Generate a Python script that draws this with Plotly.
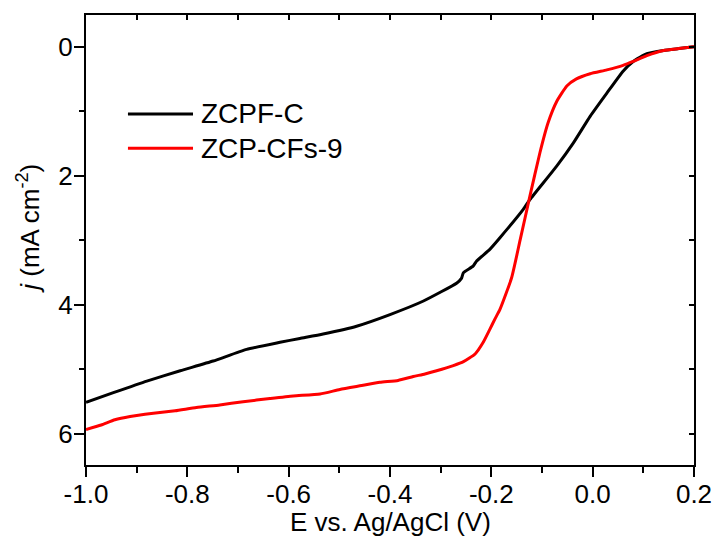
import plotly.graph_objects as go

# ZCPF-C (black)
x_zcpf = [-1.000, -0.946, -0.880, -0.814, -0.749, -0.683, -0.617, -0.578, -0.532, -0.466,
          -0.400, -0.334, -0.268, -0.259, -0.255, -0.236, -0.229, -0.203, -0.183, -0.137,
          -0.124, -0.071, -0.038, -0.005, 0.028, 0.060, 0.080, 0.107, 0.140, 0.170, 0.200]
y_zcpf = [5.51, 5.36, 5.18, 5.02, 4.87, 4.69, 4.58, 4.52, 4.45, 4.33,
          4.15, 3.94, 3.66, 3.59, 3.50, 3.40, 3.32, 3.14, 2.96, 2.52,
          2.37, 1.85, 1.49, 1.08, 0.72, 0.38, 0.23, 0.11, 0.06, 0.03, 0.00]

# ZCP-CFs-9 (red)
x_zcp = [-1.000, -0.970, -0.943, -0.913, -0.867, -0.824, -0.782, -0.736, -0.690, -0.637,
         -0.591, -0.538, -0.499, -0.456, -0.420, -0.384, -0.354, -0.331, -0.308, -0.275,
         -0.255, -0.232, -0.216, -0.203, -0.193, -0.183, -0.160, -0.143, -0.124, -0.104,
         -0.088, -0.071, -0.051, -0.032, -0.005, 0.028, 0.060, 0.080, 0.107, 0.140,
         0.170, 0.200]
y_zcp = [5.93, 5.86, 5.78, 5.73, 5.68, 5.64, 5.59, 5.55, 5.50, 5.45,
         5.41, 5.38, 5.31, 5.25, 5.20, 5.17, 5.11, 5.07, 5.02, 4.94,
         4.88, 4.76, 4.58, 4.38, 4.22, 4.07, 3.58, 2.99, 2.32, 1.64,
         1.18, 0.85, 0.61, 0.50, 0.42, 0.36, 0.29, 0.23, 0.14, 0.06,
         0.03, 0.00]

series_names = ["ZCPF-C", "ZCP-CFs-9"]
series_colors = ["#000000", "#ff0000"]

x_ticks = [-1.0, -0.8, -0.6, -0.4, -0.2, 0.0, 0.2]
x_ticklabels = ["-1.0", "-0.8", "-0.6", "-0.4", "-0.2", "0.0", "0.2"]
y_ticks = [0, 2, 4, 6]
x_range = [-1.0, 0.2]
y_range = [6.48, -0.49]
x_title = "E vs. Ag/AgCl (V)"
y_title = "<i>j</i> (mA cm<sup>-2</sup>)"

FONT = "Liberation Sans, Arial, sans-serif"

fig = go.Figure()
fig.add_trace(go.Scatter(x=x_zcpf, y=y_zcpf, mode="lines", name=series_names[0],
                         line=dict(color=series_colors[0], width=3, shape="spline", smoothing=0.5),
                         showlegend=False))
fig.add_trace(go.Scatter(x=x_zcp, y=y_zcp, mode="lines", name=series_names[1],
                         line=dict(color=series_colors[1], width=3, shape="spline", smoothing=0.5),
                         showlegend=False))
# invisible trace to register the mirrored top/right axes
fig.add_trace(go.Scatter(x=[None], y=[None], xaxis="x2", yaxis="y2", showlegend=False,
                         hoverinfo="skip"))

# manual legend (longer line samples as in the reference)
legend_y = [0.78, 0.704]
for name, color, ly in zip(series_names, series_colors, legend_y):
    fig.add_shape(type="line", xref="paper", yref="paper", x0=0.069, x1=0.176,
                  y0=ly, y1=ly, line=dict(color=color, width=3))
    fig.add_annotation(xref="paper", yref="paper", x=0.186, y=ly, text=name,
                       showarrow=False, xanchor="left", yanchor="middle",
                       font=dict(family=FONT, size=28, color="black"))

# axis titles
fig.add_annotation(xref="paper", yref="paper", x=0.5, y=-0.127, text=x_title,
                   showarrow=False, xanchor="center", yanchor="middle",
                   font=dict(family=FONT, size=26, color="black"))
fig.add_annotation(xref="paper", yref="paper", x=-0.094, y=0.527, text=y_title,
                   showarrow=False, xanchor="center", yanchor="middle", textangle=-90,
                   font=dict(family=FONT, size=26, color="black"))

# page body adds an 8 px offset; compensate so the plot area sits at 86..694 x 15..465
fig.update_layout(
    width=713, height=533,
    margin=dict(l=78, r=27, t=7, b=76),
    paper_bgcolor="white", plot_bgcolor="white",
    font=dict(family=FONT, size=26, color="black"),
    xaxis=dict(range=x_range, tickvals=x_ticks, ticktext=x_ticklabels, automargin=False,
               ticks="outside", ticklen=10, tickwidth=2, tickcolor="black", ticklabelstandoff=-5,
               minor=dict(dtick=0.1, tick0=0, ticks="outside", ticklen=6, tickwidth=2, tickcolor="black"),
               showline=True, linewidth=2, linecolor="black", showgrid=False, zeroline=False,
               tickfont=dict(size=26)),
    yaxis=dict(range=y_range, tickvals=y_ticks, ticks="outside", ticklen=10, tickwidth=2,
               tickcolor="black", automargin=False, ticklabelstandoff=-4,
               minor=dict(dtick=1, tick0=0, ticks="outside", ticklen=5, tickwidth=2, tickcolor="black"),
               showline=True, linewidth=2, linecolor="black", showgrid=False, zeroline=False,
               tickfont=dict(size=26)),
    xaxis2=dict(range=x_range, overlaying="x", side="top", anchor="y", dtick=0.1, tick0=0,
                ticks="inside", ticklen=5, tickwidth=2, tickcolor="black", automargin=False,
                showticklabels=False, showline=True, linewidth=2, linecolor="black",
                showgrid=False, zeroline=False),
    yaxis2=dict(range=y_range, overlaying="y", side="right", anchor="x", dtick=1, tick0=0,
                ticks="inside", ticklen=5, tickwidth=2, tickcolor="black", automargin=False,
                showticklabels=False, showline=True, linewidth=2, linecolor="black",
                showgrid=False, zeroline=False),
)

fig.write_html("out.html")
